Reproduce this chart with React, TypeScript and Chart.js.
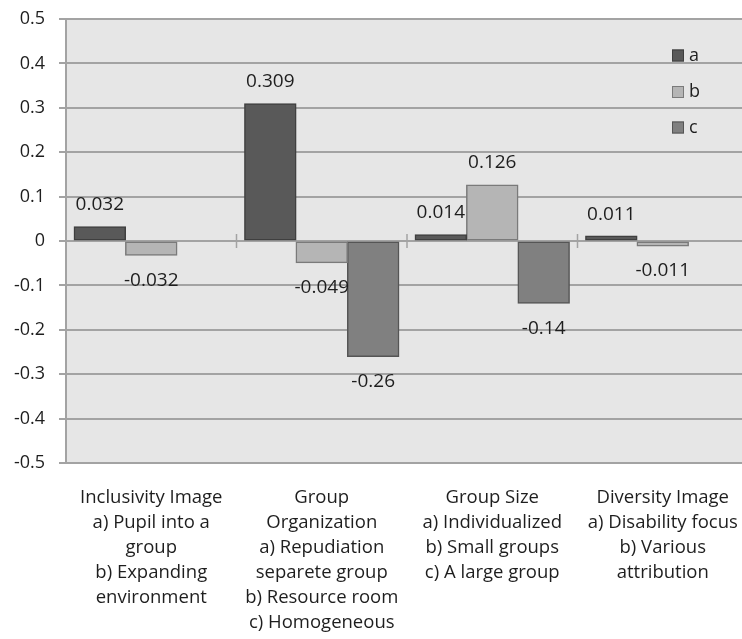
import React, { useEffect, useRef } from 'react';
import { Chart, registerables } from 'chart.js';

Chart.register(...registerables);

const categories: string[][] = [
  ['Inclusivity Image', 'a) Pupil into a', 'group', 'b) Expanding', 'environment'],
  ['Group', 'Organization', 'a) Repudiation', 'separete group', 'b) Resource room', 'c) Homogeneous'],
  ['Group Size', 'a) Individualized', 'b) Small groups', 'c) A large group'],
  ['Diversity Image', 'a) Disability focus', 'b) Various', 'attribution'],
];
const seriesNames = ['a', 'b', 'c'];
const seriesA: (number | null)[] = [0.032, 0.309, 0.014, 0.011];
const seriesB: (number | null)[] = [-0.032, -0.049, 0.126, -0.011];
const seriesC: (number | null)[] = [null, -0.26, -0.14, null];
const yMin = -0.5;
const yMax = 0.5;
const yStep = 0.1;

const fills = ['#595959', '#b5b5b5', '#808080'];
const borders = ['#3f3f3f', '#7a7a7a', '#555555'];
const GRID = '#a3a3a3';
const TEXT = '#1e1e1e';
const FONT = "'Open Sans', 'DejaVu Sans', sans-serif";

const bgPlugin = {
  id: 'plotBg',
  beforeDraw(chart: any) {
    const { ctx, chartArea } = chart;
    ctx.save();
    ctx.fillStyle = '#e6e6e6';
    ctx.fillRect(chartArea.left, chartArea.top, chartArea.right - chartArea.left, chartArea.bottom - chartArea.top);
    ctx.restore();
  },
  beforeDatasetsDraw(chart: any) {
    const { ctx } = chart;
    const x = chart.scales.x;
    const y = chart.scales.y;
    const y0 = y.getPixelForValue(0);
    ctx.save();
    ctx.strokeStyle = GRID;
    ctx.lineWidth = 1.5;
    for (let i = 1; i < categories.length; i++) {
      const px = (x.getPixelForValue(i - 1) + x.getPixelForValue(i)) / 2;
      ctx.beginPath();
      ctx.moveTo(px, y0 - 7);
      ctx.lineTo(px, y0 + 7);
      ctx.stroke();
    }
    ctx.restore();
  },
  afterDatasetsDraw(chart: any) {
    const { ctx } = chart;
    ctx.save();
    ctx.font = `19px ${FONT}`;
    ctx.fillStyle = TEXT;
    ctx.textAlign = 'center';
    ctx.textBaseline = 'middle';
    chart.data.datasets.forEach((ds: any, di: number) => {
      const meta = chart.getDatasetMeta(di);
      meta.data.forEach((el: any, i: number) => {
        const v = ds.data[i];
        if (v === null || v === undefined) return;
        const yy = v >= 0 ? el.y - 22 : el.y + 25;
        ctx.fillText(String(v), el.x, yy);
      });
    });
    // legend
    ctx.font = `18px ${FONT}`;
    const lx = 672;
    const ly = [55.5, 92, 127.5];
    chart.data.datasets.forEach((ds: any, di: number) => {
      ctx.fillStyle = fills[di];
      ctx.fillRect(lx, ly[di] - 6, 12, 12);
      ctx.strokeStyle = borders[di];
      ctx.lineWidth = 1;
      ctx.strokeRect(lx + 0.5, ly[di] - 5.5, 11, 11);
      ctx.fillStyle = TEXT;
      ctx.textAlign = 'left';
      ctx.fillText(ds.label, lx + 17, ly[di]);
    });
    ctx.restore();
  },
};

export default function App() {
  const ref = useRef<HTMLCanvasElement | null>(null);
  useEffect(() => {
    if (!ref.current) return;
    const series = [seriesA, seriesB, seriesC];
    const chart = new Chart(ref.current, {
      type: 'bar',
      data: {
        labels: categories as any,
        datasets: series.map((d, i) => ({
          label: seriesNames[i],
          data: d,
          backgroundColor: fills[i],
          borderColor: borders[i],
          borderWidth: 1.5,
          borderSkipped: false,
          inflateAmount: 0.5,
          categoryPercentage: 0.905,
          barPercentage: 1,
        })),
      },
      options: {
        animation: false,
        responsive: false,
        devicePixelRatio: 1,
        layout: { padding: { top: 19, right: 2, left: 0, bottom: 0 } },
        plugins: { legend: { display: false }, tooltip: { enabled: false } },
        scales: {
          x: {
            grid: { display: false, drawTicks: false, tickLength: 0 },
            border: { display: false },
            ticks: {
              color: TEXT,
              font: { family: FONT, size: 18.5, lineHeight: '25px' } as any,
              padding: 22,
              maxRotation: 0,
              minRotation: 0,
              autoSkip: false,
            },
            afterFit(scale: any) {
              scale.height = 176;
              scale.paddingLeft = 0;
              scale.paddingRight = 0;
            },
          },
          y: {
            min: yMin,
            max: yMax,
            grid: { color: GRID, lineWidth: 2, tickLength: 7, drawTicks: true },
            border: { display: true, color: GRID, width: 2 },
            ticks: {
              stepSize: yStep,
              color: TEXT,
              font: { family: FONT, size: 18 },
              padding: 14,
              callback: (v: any) => String(Number(Number(v).toFixed(1))),
            },
            afterFit(scale: any) {
              scale.width = 66;
              scale.paddingTop = 0;
              scale.paddingBottom = 0;
            },
          },
        },
      },
      plugins: [bgPlugin],
    });
    return () => chart.destroy();
  }, []);
  return (
    <div style={{ position: 'absolute', left: 0, top: 0, width: 742, height: 639, overflow: 'hidden', background: '#fff' }}>
      <canvas ref={ref} width={750} height={639} style={{ display: 'block' }} />
    </div>
  );
}
